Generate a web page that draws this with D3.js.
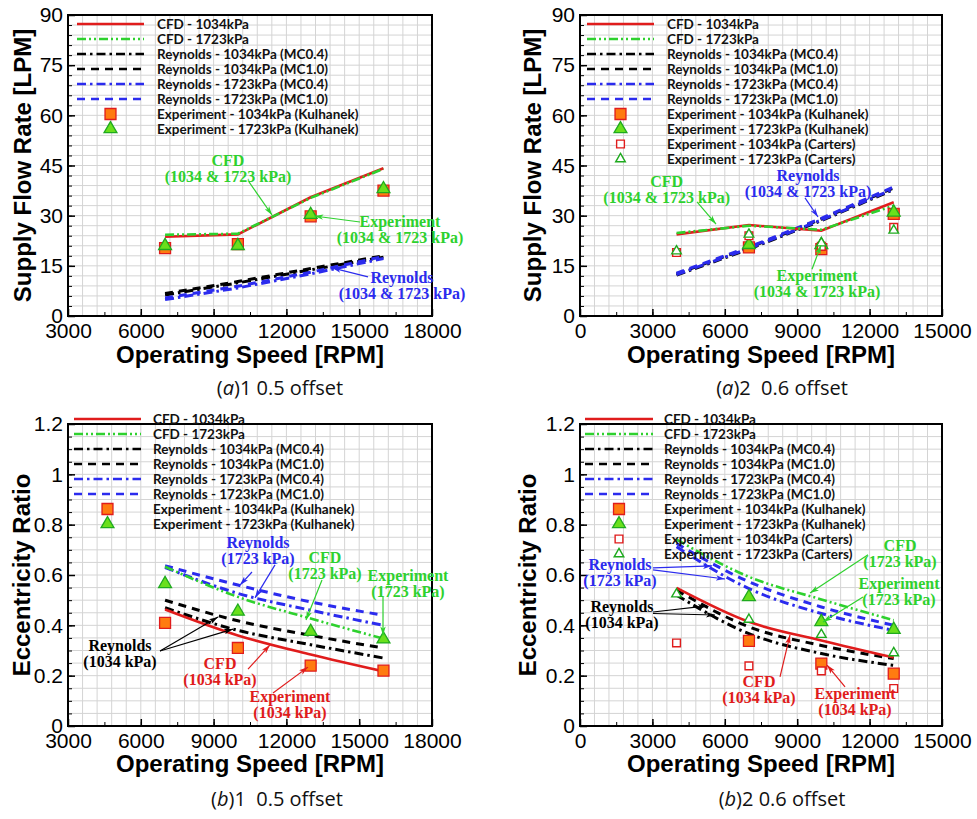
<!DOCTYPE html>
<html>
<head>
<meta charset="utf-8">
<script src="https://cdn.jsdelivr.net/npm/d3@7"></script>
<style>
body { margin: 0; background: #fff; }
</style>
</head>
<body>
<svg id="chart" width="977" height="819"></svg>
<script>
// ---------- data ----------
const speedsA1 = [7000, 10000, 13000, 16000];
const speedsA2 = [4000, 7000, 10000, 13000];

const speedTicksA1 = [3000, 6000, 9000, 12000, 15000, 18000];
const speedTicksA2 = [0, 3000, 6000, 9000, 12000, 15000];
const flowTicks = [0, 15, 30, 45, 60, 75, 90];
const eccTicks = [0, 0.2, 0.4, 0.6, 0.8, 1, 1.2];

// (a)1 supply flow, 0.5 offset
const flowA1Cfd1034 = [23.7, 24.4, 35.5, 44.2];
const flowA1Cfd1723 = [24.3, 24.6, 35.3, 44.0];
const flowA1Rey1034Mc04 = [6.3, 9.9, 13.8, 17.6];
const flowA1Rey1034Mc10 = [6.7, 10.3, 14.2, 18.0];
const flowA1Rey1723Mc04 = [4.9, 8.4, 12.6, 17.2];
const flowA1Rey1723Mc10 = [5.4, 8.9, 13.1, 17.8];
const flowA1Exp1034 = [20.3, 21.5, 29.8, 37.5];
const flowA1Exp1723 = [21.0, 21.0, 30.3, 38.0];

// (a)2 supply flow, 0.6 offset
const flowA2Cfd1034 = [24.4, 27.2, 25.5, 34.0];
const flowA2Cfd1723 = [24.8, 27.0, 25.8, 33.0];
const flowA2Rey1034Mc04 = [12.2, 20.0, 28.5, 37.8];
const flowA2Rey1034Mc10 = [12.6, 20.4, 29.0, 38.3];
const flowA2Rey1723Mc04 = [12.4, 20.2, 28.7, 38.0];
const flowA2Rey1723Mc10 = [12.8, 20.6, 29.2, 38.6];
const flowA2Exp1034 = [null, 20.5, 20.0, 30.5];
const flowA2Exp1723 = [null, 21.3, 21.3, 31.0];
const flowA2Car1034 = [19.0, 24.0, 20.8, 26.5];
const flowA2Car1723 = [19.4, 24.4, 21.8, 25.6];

// (b)1 eccentricity, 0.5 offset
const eccB1Cfd1034 = [0.463, 0.36, 0.284, 0.217];
const eccB1Cfd1723 = [0.633, 0.513, 0.427, 0.347];
const eccB1Rey1034Mc04 = [0.47, 0.38, 0.323, 0.27];
const eccB1Rey1034Mc10 = [0.50, 0.418, 0.36, 0.31];
const eccB1Rey1723Mc04 = [0.63, 0.527, 0.46, 0.40];
const eccB1Rey1723Mc10 = [0.637, 0.56, 0.493, 0.44];
const eccB1Exp1034 = [0.41, 0.31, 0.24, 0.22];
const eccB1Exp1723 = [0.565, 0.455, 0.375, 0.345];

// (b)2 eccentricity, 0.6 offset
const eccB2Cfd1034 = [0.549, 0.414, 0.34, 0.272];
const eccB2Cfd1723 = [0.741, 0.593, 0.503, 0.42];
const eccB2Rey1034Mc04 = [0.52, 0.367, 0.288, 0.241];
const eccB2Rey1034Mc10 = [0.54, 0.394, 0.32, 0.268];
const eccB2Rey1723Mc04 = [0.712, 0.546, 0.447, 0.38];
const eccB2Rey1723Mc10 = [0.725, 0.573, 0.473, 0.40];
const eccB2Exp1034 = [null, 0.338, 0.248, 0.208];
const eccB2Exp1723 = [null, 0.513, 0.414, 0.383];
const eccB2Car1034 = [0.33, 0.239, 0.219, 0.149];
const eccB2Car1723 = [0.524, 0.423, 0.363, 0.29];

const lineLabels = ["CFD - 1034kPa", "CFD - 1723kPa", "Reynolds - 1034kPa (MC0.4)",
  "Reynolds - 1034kPa (MC1.0)", "Reynolds - 1723kPa (MC0.4)", "Reynolds - 1723kPa (MC1.0)"];
const markerLabels = ["Experiment - 1034kPa (Kulhanek)", "Experiment - 1723kPa (Kulhanek)",
  "Experiment - 1034kPa (Carters)", "Experiment - 1723kPa (Carters)"];

// ---------- styles ----------
const col = {
  red: "#e01c1c", green: "#2ed12e", black: "#000", blue: "#2b2bee",
  orange: "#ff7b10", lime: "#6ae01c", limeEdge: "#1faa1f"
};
const lineStyles = [
  { color: col.red, dash: null },
  { color: col.green, dash: "9,3,2,3,2,3" },
  { color: col.black, dash: "9,4,2.5,4" },
  { color: col.black, dash: "8,6" },
  { color: col.blue, dash: "9,4,2.5,4" },
  { color: col.blue, dash: "8,6" }
];
const markerStyles = [
  { type: d3.symbolSquare, size: 120, fill: col.orange, stroke: col.red, sw: 1.3 },
  { type: d3.symbolTriangle, size: 72, fill: col.lime, stroke: col.limeEdge, sw: 1.3 },
  { type: d3.symbolSquare, size: 60, fill: "#fff", stroke: col.red, sw: 1.4 },
  { type: d3.symbolTriangle, size: 40, fill: "#fff", stroke: col.limeEdge, sw: 1.4 }
];

const svg = d3.select("#chart");
const defs = svg.append("defs");
Object.entries({ red: col.red, green: col.green, black: col.black, blue: col.blue }).forEach(([k, c]) => {
  defs.append("marker").attr("id", "arr-" + k)
    .attr("viewBox", "0 0 10 6").attr("refX", 10).attr("refY", 3)
    .attr("markerWidth", 9).attr("markerHeight", 6)
    .attr("markerUnits", "userSpaceOnUse").attr("orient", "auto")
    .append("path").attr("d", "M0,0 L10,3 L0,6 L2.5,3 Z").attr("fill", c);
});

const panels = [
  {
    left: 68, top: 15, width: 364, height: 301,
    xDomain: [3000, 18000], xTicks: speedTicksA1, xMinor: 600,
    yDomain: [0, 90], yTicks: flowTicks, yMinor: 3,
    yTitle: "Supply Flow Rate [LPM]", yTitleX: 31, xTitleY: 363,
    caption: ["a", "1 0.5 offset"], captionX: 280, captionY: 395,
    legend: { x1: 77, x2: 144, tx: 157, y0: 24 },
    speeds: speedsA1, curve: d3.curveLinear,
    lines: [flowA1Cfd1034, flowA1Cfd1723, flowA1Rey1034Mc04, flowA1Rey1034Mc10, flowA1Rey1723Mc04, flowA1Rey1723Mc10],
    points: [flowA1Exp1034, flowA1Exp1723],
    notes: [
      { text: ["CFD", "(1034 & 1723 kPa)"], color: "green", x: 9593, y: 44.9, arrows: [[10459, 40.1, 11407, 30.2]] },
      { text: ["Experiment", "(1034 & 1723 kPa)"], color: "green", x: 16681, y: 26.6, arrows: [[15033, 28.1, 13150, 29.9]] },
      { text: ["Reynolds", "(1034 & 1723 kPa)"], color: "blue", x: 16764, y: 9.9, arrows: [[15363, 11.7, 13879, 14.4]] }
    ]
  },
  {
    left: 580, top: 15, width: 362, height: 301,
    xDomain: [0, 15000], xTicks: speedTicksA2, xMinor: 600,
    yDomain: [0, 90], yTicks: flowTicks, yMinor: 3,
    yTitle: "Supply Flow Rate [LPM]", yTitleX: 541, xTitleY: 363,
    caption: ["a", "2  0.6 offset"], captionX: 782, captionY: 395,
    legend: { x1: 587, x2: 654, tx: 667, y0: 24 },
    speeds: speedsA2, curve: d3.curveLinear,
    lines: [flowA2Cfd1034, flowA2Cfd1723, flowA2Rey1034Mc04, flowA2Rey1034Mc10, flowA2Rey1723Mc04, flowA2Rey1723Mc10],
    points: [flowA2Exp1034, flowA2Exp1723, flowA2Car1034, flowA2Car1723],
    notes: [
      { text: ["CFD", "(1034 & 1723 kPa)"], color: "green", x: 3592, y: 38.6, arrows: [[4848, 34.1, 5636, 27.5]] },
      { text: ["Reynolds", "(1034 & 1723 kPa)"], color: "blue", x: 9449, y: 40.3, arrows: [[9324, 35.3, 9863, 29.6]] },
      { text: ["Experiment", "(1034 & 1723 kPa)"], color: "green", x: 9822, y: 10.5, arrows: [[9614, 14.0, 9987, 21.2]] }
    ]
  },
  {
    left: 68, top: 424, width: 364, height: 302,
    xDomain: [3000, 18000], xTicks: speedTicksA1, xMinor: 600,
    yDomain: [0, 1.2], yTicks: eccTicks, yMinor: 0.05,
    yTitle: "Eccentricity Ratio", yTitleX: 30, xTitleY: 772,
    caption: ["b", "1  0.5 offset"], captionX: 277, captionY: 806,
    legend: { x1: 74, x2: 141, tx: 153, y0: 419 },
    speeds: speedsA1, curve: d3.curveMonotoneX,
    lines: [eccB1Cfd1034, eccB1Cfd1723, eccB1Rey1034Mc04, eccB1Rey1034Mc10, eccB1Rey1723Mc04, eccB1Rey1723Mc10],
    points: [eccB1Exp1034, eccB1Exp1723],
    notes: [
      { text: ["Reynolds", "(1723 kPa)"], color: "blue", x: 10830, y: 0.707, arrows: [[10582, 0.612, 10088, 0.56], [11530, 0.64, 10706, 0.509]] },
      { text: ["CFD", "(1723 kPa)"], color: "green", x: 13590, y: 0.649, arrows: [[13467, 0.58, 12808, 0.421]] },
      { text: ["Experiment", "(1723 kPa)"], color: "green", x: 17011, y: 0.577, arrows: [[15981, 0.513, 15981, 0.36]] },
      { text: ["Reynolds", "(1034 kPa)"], color: "black", x: 5143, y: 0.299, arrows: [[6791, 0.298, 9181, 0.433], [6791, 0.298, 9800, 0.385]] },
      { text: ["CFD", "(1034 kPa)"], color: "red", x: 9264, y: 0.226, arrows: [[10418, 0.226, 11324, 0.322]] },
      { text: ["Experiment", "(1034 kPa)"], color: "red", x: 12148, y: 0.097, arrows: [[11448, 0.131, 12890, 0.234]] }
    ]
  },
  {
    left: 580, top: 424, width: 362, height: 302,
    xDomain: [0, 15000], xTicks: speedTicksA2, xMinor: 600,
    yDomain: [0, 1.2], yTicks: eccTicks, yMinor: 0.05,
    yTitle: "Eccentricity Ratio", yTitleX: 536, xTitleY: 772,
    caption: ["b", "2 0.6 offset"], captionX: 782, captionY: 806,
    legend: { x1: 585, x2: 653, tx: 664, y0: 419 },
    speeds: speedsA2, curve: d3.curveMonotoneX,
    lines: [eccB2Cfd1034, eccB2Cfd1723, eccB2Rey1034Mc04, eccB2Rey1034Mc10, eccB2Rey1723Mc04, eccB2Rey1723Mc10],
    points: [eccB2Exp1034, eccB2Exp1723, eccB2Car1034, eccB2Car1723],
    notes: [
      { text: ["Reynolds", "(1723 kPa)"], color: "blue", x: 1658, y: 0.62, arrows: [[3025, 0.628, 5470, 0.636], [3025, 0.62, 6009, 0.584]] },
      { text: ["Reynolds", "(1034 kPa)"], color: "black", x: 1740, y: 0.453, arrows: [[3025, 0.453, 5263, 0.477], [3025, 0.447, 5595, 0.441]] },
      { text: ["CFD", "(1723 kPa)"], color: "green", x: 13261, y: 0.697, arrows: [[11935, 0.68, 9532, 0.528]] },
      { text: ["Experiment", "(1723 kPa)"], color: "green", x: 13219, y: 0.544, arrows: [[11727, 0.513, 10070, 0.413]] },
      { text: ["CFD", "(1034 kPa)"], color: "red", x: 7418, y: 0.156, arrows: [[8288, 0.195, 8702, 0.362]] },
      { text: ["Experiment", "(1034 kPa)"], color: "red", x: 11396, y: 0.106, arrows: [[10982, 0.155, 10236, 0.242]] }
    ]
  }
];

function drawPanel(p) {
  const x = d3.scaleLinear().domain(p.xDomain).range([p.left, p.left + p.width]);
  const y = d3.scaleLinear().domain(p.yDomain).range([p.top + p.height, p.top]);
  const g = svg.append("g");

  // grid
  const xMinorVals = d3.range(p.xDomain[0], p.xDomain[1] + 1, p.xMinor);
  const yMinorVals = d3.range(0, Math.round((p.yDomain[1] - p.yDomain[0]) / p.yMinor) + 1)
    .map(i => p.yDomain[0] + i * p.yMinor);
  g.append("g").selectAll("line").data(xMinorVals).join("line")
    .attr("x1", d => x(d)).attr("x2", d => x(d))
    .attr("y1", p.top).attr("y2", p.top + p.height)
    .attr("stroke", "#d4d4d4").attr("stroke-width", 1);
  g.append("g").selectAll("line").data(yMinorVals).join("line")
    .attr("y1", d => y(d)).attr("y2", d => y(d))
    .attr("x1", p.left).attr("x2", p.left + p.width)
    .attr("stroke", "#d4d4d4").attr("stroke-width", 1);

  // minor ticks
  g.append("g").attr("transform", `translate(0,${p.top + p.height})`)
    .call(d3.axisBottom(x).tickValues(d3.range(p.xDomain[0], p.xDomain[1], (p.xTicks[1] - p.xTicks[0]) / 2)).tickSize(-4).tickFormat(""))
    .call(a => a.select(".domain").remove());
  g.append("g").attr("transform", `translate(${p.left},0)`)
    .call(d3.axisLeft(y).tickValues(yMinorVals).tickSize(-4).tickFormat(""))
    .call(a => a.select(".domain").remove());

  // major axes
  const fmt = d3.format("~g");
  g.append("g").attr("transform", `translate(0,${p.top + p.height})`)
    .call(d3.axisBottom(x).tickValues(p.xTicks).tickSizeInner(-7).tickSizeOuter(0).tickPadding(7).tickFormat(d => d))
    .call(a => a.select(".domain").remove())
    .call(a => a.selectAll("text").attr("font-family", "'Liberation Sans', Arial, sans-serif").attr("font-size", 21).attr("fill", "#000"))
    .call(a => a.selectAll("line").attr("stroke-width", 1.5));
  g.append("g").attr("transform", `translate(${p.left},0)`)
    .call(d3.axisLeft(y).tickValues(p.yTicks).tickSizeInner(-7).tickSizeOuter(0).tickPadding(5).tickFormat(fmt))
    .call(a => a.select(".domain").remove())
    .call(a => a.selectAll("text").attr("font-family", "'Liberation Sans', Arial, sans-serif").attr("font-size", 21).attr("fill", "#000"))
    .call(a => a.selectAll("line").attr("stroke-width", 1.5));

  // frame
  g.append("rect").attr("x", p.left).attr("y", p.top)
    .attr("width", p.width).attr("height", p.height)
    .attr("fill", "none").attr("stroke", "#000").attr("stroke-width", 2);

  // titles
  g.append("text").attr("x", p.left + p.width / 2).attr("y", p.xTitleY)
    .attr("text-anchor", "middle").attr("font-family", "'Liberation Sans', Arial, sans-serif")
    .attr("font-weight", "bold").attr("font-size", 24).text("Operating Speed [RPM]");
  g.append("text")
    .attr("transform", `translate(${p.yTitleX},${p.top + p.height / 2}) rotate(-90)`)
    .attr("text-anchor", "middle").attr("font-family", "'Liberation Sans', Arial, sans-serif")
    .attr("font-weight", "bold").attr("font-size", 24).text(p.yTitle);

  // caption
  const cap = g.append("text").attr("x", p.captionX).attr("y", p.captionY)
    .attr("text-anchor", "middle").attr("font-family", "'Open Sans', sans-serif")
    .attr("font-size", 20).attr("fill", "#111").style("white-space", "pre");
  cap.append("tspan").text("(");
  cap.append("tspan").attr("font-style", "italic").text(p.caption[0]);
  cap.append("tspan").text(")" + p.caption[1]);

  // lines: Reynolds first, CFD on top
  const line = d3.line().defined(d => d[1] != null)
    .x(d => x(d[0])).y(d => y(d[1])).curve(p.curve);
  [2, 3, 4, 5, 0, 1].forEach(i => {
    const st = lineStyles[i];
    g.append("path").datum(p.speeds.map((s, k) => [s, p.lines[i][k]]))
      .attr("d", line).attr("fill", "none")
      .attr("stroke", st.color).attr("stroke-width", i < 2 ? 2.6 : 3)
      .attr("stroke-dasharray", st.dash);
  });

  // experiment markers
  p.points.forEach((vals, i) => {
    const ms = markerStyles[i];
    g.append("g").selectAll("path")
      .data(p.speeds.map((s, k) => [s, vals[k]]).filter(d => d[1] != null))
      .join("path")
      .attr("transform", d => `translate(${x(d[0])},${y(d[1])})`)
      .attr("d", d3.symbol(ms.type, ms.size))
      .attr("fill", ms.fill).attr("stroke", ms.stroke).attr("stroke-width", ms.sw);
  });

  // legend
  const lg = g.append("g");
  const rowH = 15;
  lineLabels.forEach((lab, i) => {
    const yy = p.legend.y0 + i * rowH;
    lg.append("line").attr("x1", p.legend.x1).attr("x2", p.legend.x2)
      .attr("y1", yy).attr("y2", yy)
      .attr("stroke", lineStyles[i].color).attr("stroke-width", 2.6)
      .attr("stroke-dasharray", lineStyles[i].dash);
  });
  p.points.forEach((vals, i) => {
    const yy = p.legend.y0 + (6 + i) * rowH;
    const ms = markerStyles[i];
    lg.append("path").attr("transform", `translate(${(p.legend.x1 + p.legend.x2) / 2},${yy})`)
      .attr("d", d3.symbol(ms.type, ms.size))
      .attr("fill", ms.fill).attr("stroke", ms.stroke).attr("stroke-width", ms.sw);
  });
  const labels = lineLabels.concat(markerLabels.slice(0, p.points.length));
  lg.selectAll("text").data(labels).join("text")
    .attr("x", p.legend.tx).attr("y", (d, i) => p.legend.y0 + i * rowH + 5)
    .attr("font-family", "Lato, 'Open Sans', sans-serif").attr("font-weight", "bold")
    .attr("font-size", 13.5).attr("fill", "#111").text(d => d);

  // annotations
  p.notes.forEach(n => {
    const c = col[n.color];
    n.arrows.forEach(a => {
      g.append("line").attr("x1", x(a[0])).attr("y1", y(a[1]))
        .attr("x2", x(a[2])).attr("y2", y(a[3]))
        .attr("stroke", c).attr("stroke-width", 1.2)
        .attr("marker-end", `url(#arr-${n.color})`);
    });
    const t = g.append("text").attr("text-anchor", "middle")
      .attr("font-family", "'Liberation Serif', 'Times New Roman', serif")
      .attr("font-weight", "bold").attr("font-size", 16).attr("fill", c);
    n.text.forEach((s, k) => {
      t.append("tspan").attr("x", x(n.x)).attr("y", y(n.y) + k * 16).text(s);
    });
  });
}

panels.forEach(drawPanel);
</script>
</body>
</html>
